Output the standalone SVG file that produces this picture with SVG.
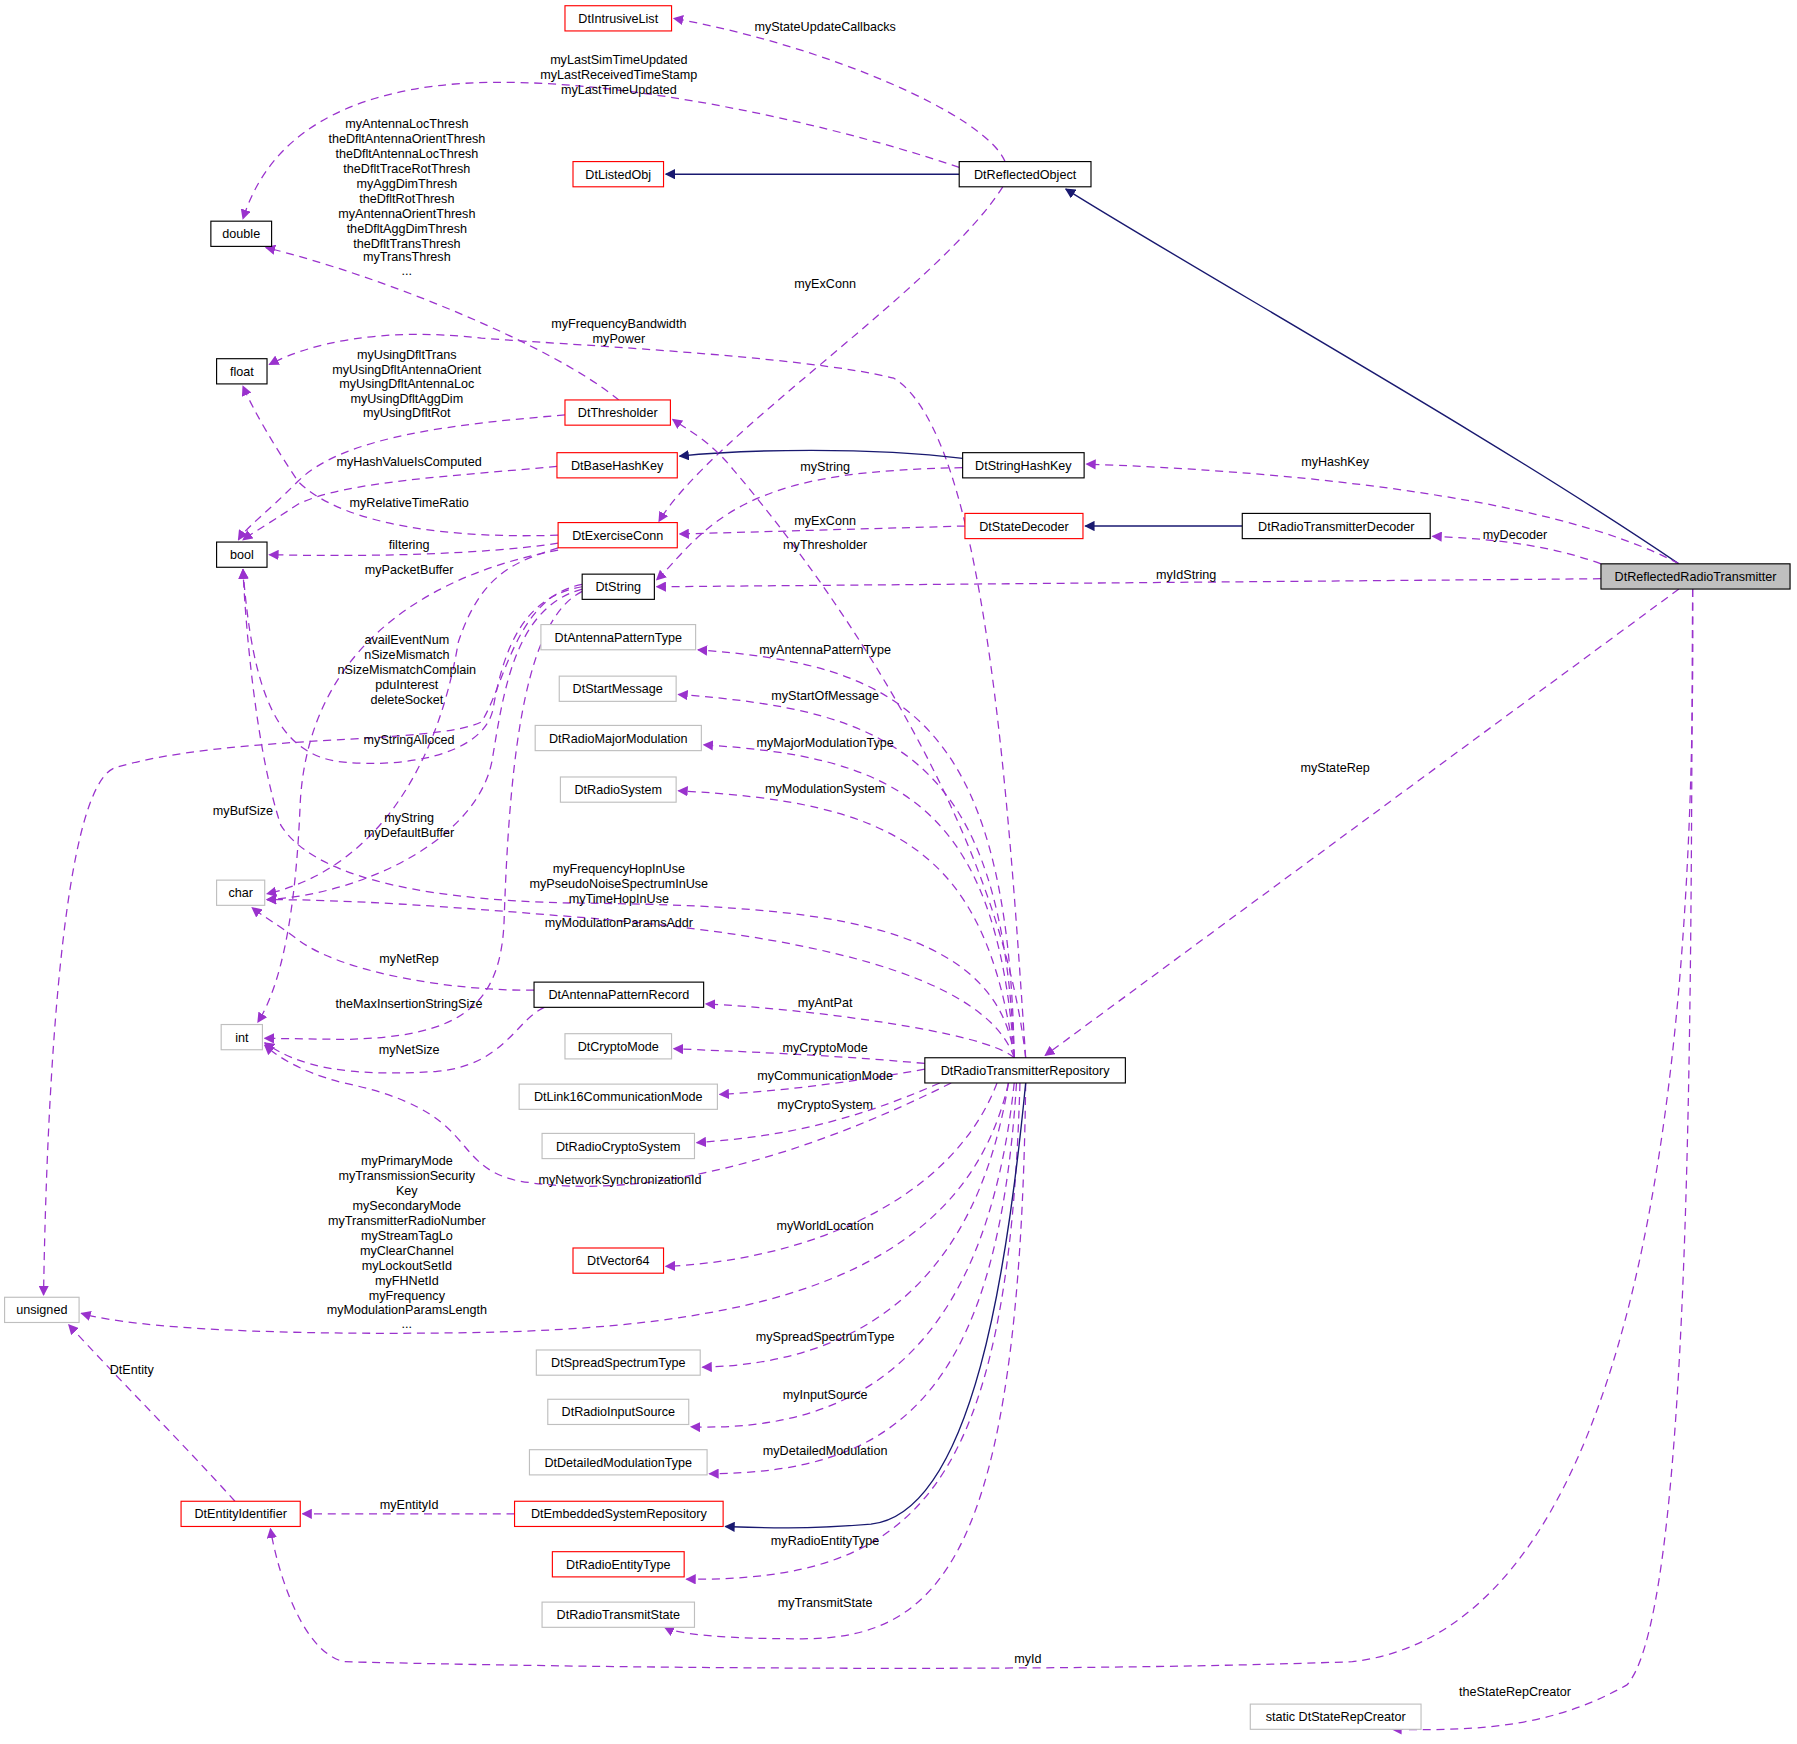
<svg xmlns="http://www.w3.org/2000/svg" width="1797" height="1744" viewBox="0 0 1797 1744">
<style>
.n rect{stroke-width:1}
.b rect{fill:#fff;stroke:#000}
.r rect{fill:#fff;stroke:#f00}
.g rect{fill:#fff;stroke:#bfbfbf}
text{font-family:"Liberation Sans",Arial,sans-serif;font-size:11px;fill:#000;text-anchor:middle}
.d{fill:none;stroke:#9a32cd;stroke-dasharray:7,5;stroke-width:1.1;marker-end:url(#ap)}
.s{fill:none;stroke:#191970;stroke-width:1.2;marker-end:url(#an)}
</style>
<defs>
<marker id="ap" viewBox="0 0 10 10" refX="9" refY="5" markerWidth="9" markerHeight="9" markerUnits="userSpaceOnUse" orient="auto"><path d="M0,0L10,5L0,10z" fill="#9a32cd"/></marker>
<marker id="an" viewBox="0 0 10 10" refX="9" refY="5" markerWidth="9" markerHeight="9" markerUnits="userSpaceOnUse" orient="auto"><path d="M0,0L10,5L0,10z" fill="#191970"/></marker>
</defs>
<rect width="1797" height="1744" fill="#fff"/>
<g transform="scale(1.146)">
<g id="edges">
<path class="d" d="M877,141 C860,100 720,40 588,16"/>
<path class="d" d="M837,146 C700,100 500,60 380,75 C260,90 225,150 212,191"/>
<path class="d" d="M875,163 C820,250 620,380 575,455"/>
<path class="s" d="M837,152 L581,152"/>
<path class="s" d="M1465,492 C1300,380 1050,240 930,165"/>
<path class="d" d="M540,349 C480,300 330,240 232,216"/>
<path class="d" d="M895,923 C880,700 860,380 780,330 C700,310 480,300 420,295 C330,285 270,300 235,318"/>
<path class="d" d="M493,362 C400,370 300,380 260,420 C230,450 215,460 208,471"/>
<path class="d" d="M486,407 C400,415 300,420 260,440 C230,460 220,465 212,471"/>
<path class="d" d="M487,467 C400,470 300,460 260,420 C240,390 222,360 212,337"/>
<path class="d" d="M487,474 C420,484 320,486 235,484"/>
<path class="d" d="M487,478 C450,490 420,500 400,560 C380,680 320,760 233,780"/>
<path class="d" d="M487,480 C380,500 270,560 262,700 C258,800 245,860 225,892"/>
<path class="s" d="M840,400 C760,390 650,392 593,398"/>
<path class="d" d="M840,408 C760,410 700,415 650,440 C610,460 590,490 573,506"/>
<path class="d" d="M1465,492 C1350,430 1100,410 948,405"/>
<path class="d" d="M842,459 L593,466"/>
<path class="s" d="M1084,459 L947,459"/>
<path class="d" d="M1397,492 C1350,475 1300,470 1250,468"/>
<path class="d" d="M1397,505 L573,512"/>
<path class="d" d="M895,923 C870,700 700,480 640,410 C620,385 600,375 587,366"/>
<path class="d" d="M1465,514 L912,921"/>
<path class="d" d="M885,923 C880,620 780,580 609,567"/>
<path class="d" d="M885,923 C875,660 780,620 592,606"/>
<path class="d" d="M885,923 C870,700 780,660 614,650"/>
<path class="d" d="M885,923 C860,740 780,700 592,690"/>
<path class="d" d="M885,923 C870,800 700,790 500,788 C350,785 270,760 245,720 C225,660 215,560 212,497"/>
<path class="d" d="M885,923 C860,850 700,815 500,800 C380,790 300,785 233,785"/>
<path class="d" d="M885,923 C860,900 700,880 616,876"/>
<path class="d" d="M807,928 C720,920 650,918 588,915"/>
<path class="d" d="M807,933 C740,945 680,952 628,955"/>
<path class="d" d="M820,945 C740,980 680,992 608,997"/>
<path class="d" d="M830,945 C700,1010 560,1050 450,1030 C390,1015 420,970 300,945 C260,935 240,920 231,912"/>
<path class="d" d="M870,945 C830,1050 700,1100 581,1105"/>
<path class="d" d="M880,945 C840,1120 650,1160 400,1163 C250,1165 120,1160 71,1146"/>
<path class="d" d="M880,945 C850,1130 740,1190 613,1193"/>
<path class="d" d="M885,945 C860,1180 750,1250 603,1245"/>
<path class="d" d="M887,945 C870,1220 780,1285 619,1286"/>
<path class="d" d="M890,945 C880,1300 800,1380 599,1378"/>
<path class="d" d="M895,945 C890,1360 820,1430 700,1430 C620,1430 590,1425 580,1420"/>
<path class="s" d="M895,945 C880,1100 850,1320 760,1330 C700,1335 660,1333 633,1332"/>
<path class="d" d="M449,1321 L264,1321"/>
<path class="d" d="M205,1310 C160,1260 100,1200 60,1156"/>
<path class="d" d="M1477,514 C1480,900 1440,1420 1180,1450 C900,1460 500,1455 300,1450 C260,1440 240,1360 236,1334"/>
<path class="d" d="M1477,514 C1475,800 1480,1400 1420,1470 C1350,1510 1280,1510 1215,1509"/>
<path class="d" d="M466,864 C400,865 300,850 260,820 C240,805 230,800 220,792"/>
<path class="d" d="M475,879 C450,890 440,930 380,935 C300,940 260,930 231,910"/>
<path class="d" d="M508,512 C460,520 440,560 430,620 C420,660 350,670 300,665 C240,660 220,600 212,497"/>
<path class="d" d="M508,514 C450,530 440,600 430,660 C420,730 320,780 233,785"/>
<path class="d" d="M508,516 C460,540 445,650 440,800 C438,880 400,905 300,907 L231,906"/>
<path class="d" d="M508,510 C450,520 440,600 420,630 C380,650 200,640 100,670 C50,690 40,1000 38,1130"/>
</g>
<g id="labels">
<text x="720" y="27">myStateUpdateCallbacks</text>
<text x="540" y="56">myLastSimTimeUpdated</text><text x="540" y="69">myLastReceivedTimeStamp</text><text x="540" y="82">myLastTimeUpdated</text>
<text x="720" y="251">myExConn</text>
<text x="355" y="112">myAntennaLocThresh</text><text x="355" y="125">theDfltAntennaOrientThresh</text><text x="355" y="138">theDfltAntennaLocThresh</text><text x="355" y="151">theDfltTraceRotThresh</text><text x="355" y="164">myAggDimThresh</text><text x="355" y="177">theDfltRotThresh</text><text x="355" y="190">myAntennaOrientThresh</text><text x="355" y="203">theDfltAggDimThresh</text><text x="355" y="216">theDfltTransThresh</text><text x="355" y="228">myTransThresh</text><text x="355" y="240">...</text>
<text x="540" y="286">myFrequencyBandwidth</text><text x="540" y="299">myPower</text>
<text x="355" y="313">myUsingDfltTrans</text><text x="355" y="326">myUsingDfltAntennaOrient</text><text x="355" y="339">myUsingDfltAntennaLoc</text><text x="355" y="352">myUsingDfltAggDim</text><text x="355" y="364">myUsingDfltRot</text>
<text x="357" y="407">myHashValueIsComputed</text>
<text x="720" y="411">myString</text>
<text x="1165" y="407">myHashKey</text>
<text x="357" y="442">myRelativeTimeRatio</text>
<text x="720" y="458">myExConn</text>
<text x="1322" y="470">myDecoder</text>
<text x="357" y="479">filtering</text>
<text x="720" y="479">myThresholder</text>
<text x="357" y="501">myPacketBuffer</text>
<text x="1035" y="505">myIdString</text>
<text x="355" y="562">availEventNum</text><text x="355" y="575">nSizeMismatch</text><text x="355" y="588">nSizeMismatchComplain</text><text x="355" y="601">pduInterest</text><text x="355" y="614">deleteSocket</text>
<text x="720" y="571">myAntennaPatternType</text>
<text x="720" y="611">myStartOfMessage</text>
<text x="357" y="649">myStringAlloced</text>
<text x="720" y="652">myMajorModulationType</text>
<text x="1165" y="674">myStateRep</text>
<text x="720" y="692">myModulationSystem</text>
<text x="212" y="711">myBufSize</text>
<text x="357" y="717">myString</text><text x="357" y="730">myDefaultBuffer</text>
<text x="540" y="762">myFrequencyHopInUse</text><text x="540" y="775">myPseudoNoiseSpectrumInUse</text><text x="540" y="788">myTimeHopInUse</text>
<text x="540" y="809">myModulationParamsAddr</text>
<text x="357" y="840">myNetRep</text>
<text x="720" y="879">myAntPat</text>
<text x="357" y="880">theMaxInsertionStringSize</text>
<text x="720" y="918">myCryptoMode</text>
<text x="357" y="920">myNetSize</text>
<text x="720" y="942">myCommunicationMode</text>
<text x="720" y="968">myCryptoSystem</text>
<text x="355" y="1017">myPrimaryMode</text><text x="355" y="1030">myTransmissionSecurity</text><text x="355" y="1043">Key</text><text x="355" y="1056">mySecondaryMode</text><text x="355" y="1069">myTransmitterRadioNumber</text><text x="355" y="1082">myStreamTagLo</text><text x="355" y="1095">myClearChannel</text><text x="355" y="1108">myLockoutSetId</text><text x="355" y="1121">myFHNetId</text><text x="355" y="1134">myFrequency</text><text x="355" y="1147">myModulationParamsLength</text><text x="355" y="1159">...</text>
<text x="541" y="1033">myNetworkSynchronizationId</text>
<text x="720" y="1073">myWorldLocation</text>
<text x="720" y="1170">mySpreadSpectrumType</text>
<text x="115" y="1199">DtEntity</text>
<text x="720" y="1221">myInputSource</text>
<text x="720" y="1270">myDetailedModulation</text>
<text x="357" y="1317">myEntityId</text>
<text x="720" y="1348">myRadioEntityType</text>
<text x="720" y="1402">myTransmitState</text>
<text x="897" y="1451">myId</text>
<text x="1322" y="1480">theStateRepCreator</text>
</g>
<g id="DtIntrusiveList" class="n r"><rect x="493" y="5" width="93" height="22"/><text x="539.5" y="20">DtIntrusiveList</text></g>
<g id="DtReflectedObject" class="n b"><rect x="837" y="141" width="115" height="22"/><text x="894.5" y="156">DtReflectedObject</text></g>
<g id="DtListedObj" class="n r"><rect x="500" y="141" width="79" height="22"/><text x="539.5" y="156">DtListedObj</text></g>
<g id="double" class="n b"><rect x="184" y="193" width="53" height="22"/><text x="210.5" y="208">double</text></g>
<g id="float" class="n b"><rect x="189" y="313" width="44" height="22"/><text x="211" y="328">float</text></g>
<g id="DtThresholder" class="n r"><rect x="493" y="349" width="92" height="22"/><text x="539" y="364">DtThresholder</text></g>
<g id="DtBaseHashKey" class="n r"><rect x="486" y="395" width="105" height="22"/><text x="538.5" y="410">DtBaseHashKey</text></g>
<g id="DtStringHashKey" class="n b"><rect x="840" y="395" width="106" height="22"/><text x="893" y="410">DtStringHashKey</text></g>
<g id="bool" class="n b"><rect x="189" y="473" width="44" height="22"/><text x="211" y="488">bool</text></g>
<g id="DtExerciseConn" class="n r"><rect x="487" y="456" width="104" height="22"/><text x="539" y="471">DtExerciseConn</text></g>
<g id="DtStateDecoder" class="n r"><rect x="842" y="448" width="103" height="22"/><text x="893.5" y="463">DtStateDecoder</text></g>
<g id="DtRadioTransmitterDecoder" class="n b"><rect x="1084" y="448" width="164" height="22"/><text x="1166" y="463">DtRadioTransmitterDecoder</text></g>
<g id="DtReflectedRadioTransmitter" class="n"><rect x="1397" y="492" width="165" height="22" fill="#bfbfbf" stroke="#000"/><text x="1479.5" y="507">DtReflectedRadioTransmitter</text></g>
<g id="DtString" class="n b"><rect x="508" y="501" width="63" height="22"/><text x="539.5" y="516">DtString</text></g>
<g id="DtAntennaPatternType" class="n g"><rect x="472" y="545" width="135" height="22"/><text x="539.5" y="560">DtAntennaPatternType</text></g>
<g id="DtStartMessage" class="n g"><rect x="488" y="590" width="102" height="22"/><text x="539" y="605">DtStartMessage</text></g>
<g id="DtRadioMajorModulation" class="n g"><rect x="467" y="633" width="145" height="22"/><text x="539.5" y="648">DtRadioMajorModulation</text></g>
<g id="DtRadioSystem" class="n g"><rect x="489" y="678" width="101" height="22"/><text x="539.5" y="693">DtRadioSystem</text></g>
<g id="char" class="n g"><rect x="189" y="768" width="42" height="22"/><text x="210" y="783">char</text></g>
<g id="DtAntennaPatternRecord" class="n b"><rect x="466" y="857" width="148" height="22"/><text x="540" y="872">DtAntennaPatternRecord</text></g>
<g id="int" class="n g"><rect x="193" y="894" width="36" height="22"/><text x="211" y="909">int</text></g>
<g id="DtCryptoMode" class="n g"><rect x="493" y="902" width="93" height="22"/><text x="539.5" y="917">DtCryptoMode</text></g>
<g id="DtRadioTransmitterRepository" class="n b"><rect x="807" y="923" width="175" height="22"/><text x="894.5" y="938">DtRadioTransmitterRepository</text></g>
<g id="DtLink16CommunicationMode" class="n g"><rect x="453" y="946" width="173" height="22"/><text x="539.5" y="961">DtLink16CommunicationMode</text></g>
<g id="DtRadioCryptoSystem" class="n g"><rect x="473" y="989" width="133" height="22"/><text x="539.5" y="1004">DtRadioCryptoSystem</text></g>
<g id="DtVector64" class="n r"><rect x="500" y="1089" width="79" height="22"/><text x="539.5" y="1104">DtVector64</text></g>
<g id="unsigned" class="n g"><rect x="4" y="1132" width="65" height="22"/><text x="36.5" y="1147">unsigned</text></g>
<g id="DtSpreadSpectrumType" class="n g"><rect x="468" y="1178" width="143" height="22"/><text x="539.5" y="1193">DtSpreadSpectrumType</text></g>
<g id="DtRadioInputSource" class="n g"><rect x="478" y="1221" width="123" height="22"/><text x="539.5" y="1236">DtRadioInputSource</text></g>
<g id="DtDetailedModulationType" class="n g"><rect x="462" y="1265" width="155" height="22"/><text x="539.5" y="1280">DtDetailedModulationType</text></g>
<g id="DtEntityIdentifier" class="n r"><rect x="158" y="1310" width="104" height="22"/><text x="210" y="1325">DtEntityIdentifier</text></g>
<g id="DtEmbeddedSystemRepository" class="n r"><rect x="449" y="1310" width="182" height="22"/><text x="540" y="1325">DtEmbeddedSystemRepository</text></g>
<g id="DtRadioEntityType" class="n r"><rect x="482" y="1354" width="115" height="22"/><text x="539.5" y="1369">DtRadioEntityType</text></g>
<g id="DtRadioTransmitState" class="n g"><rect x="473" y="1398" width="133" height="22"/><text x="539.5" y="1413">DtRadioTransmitState</text></g>
<g id="DtStateRepCreator" class="n g"><rect x="1091" y="1487" width="149" height="22"/><text x="1165.5" y="1502">static DtStateRepCreator</text></g>
</g>
</svg>
